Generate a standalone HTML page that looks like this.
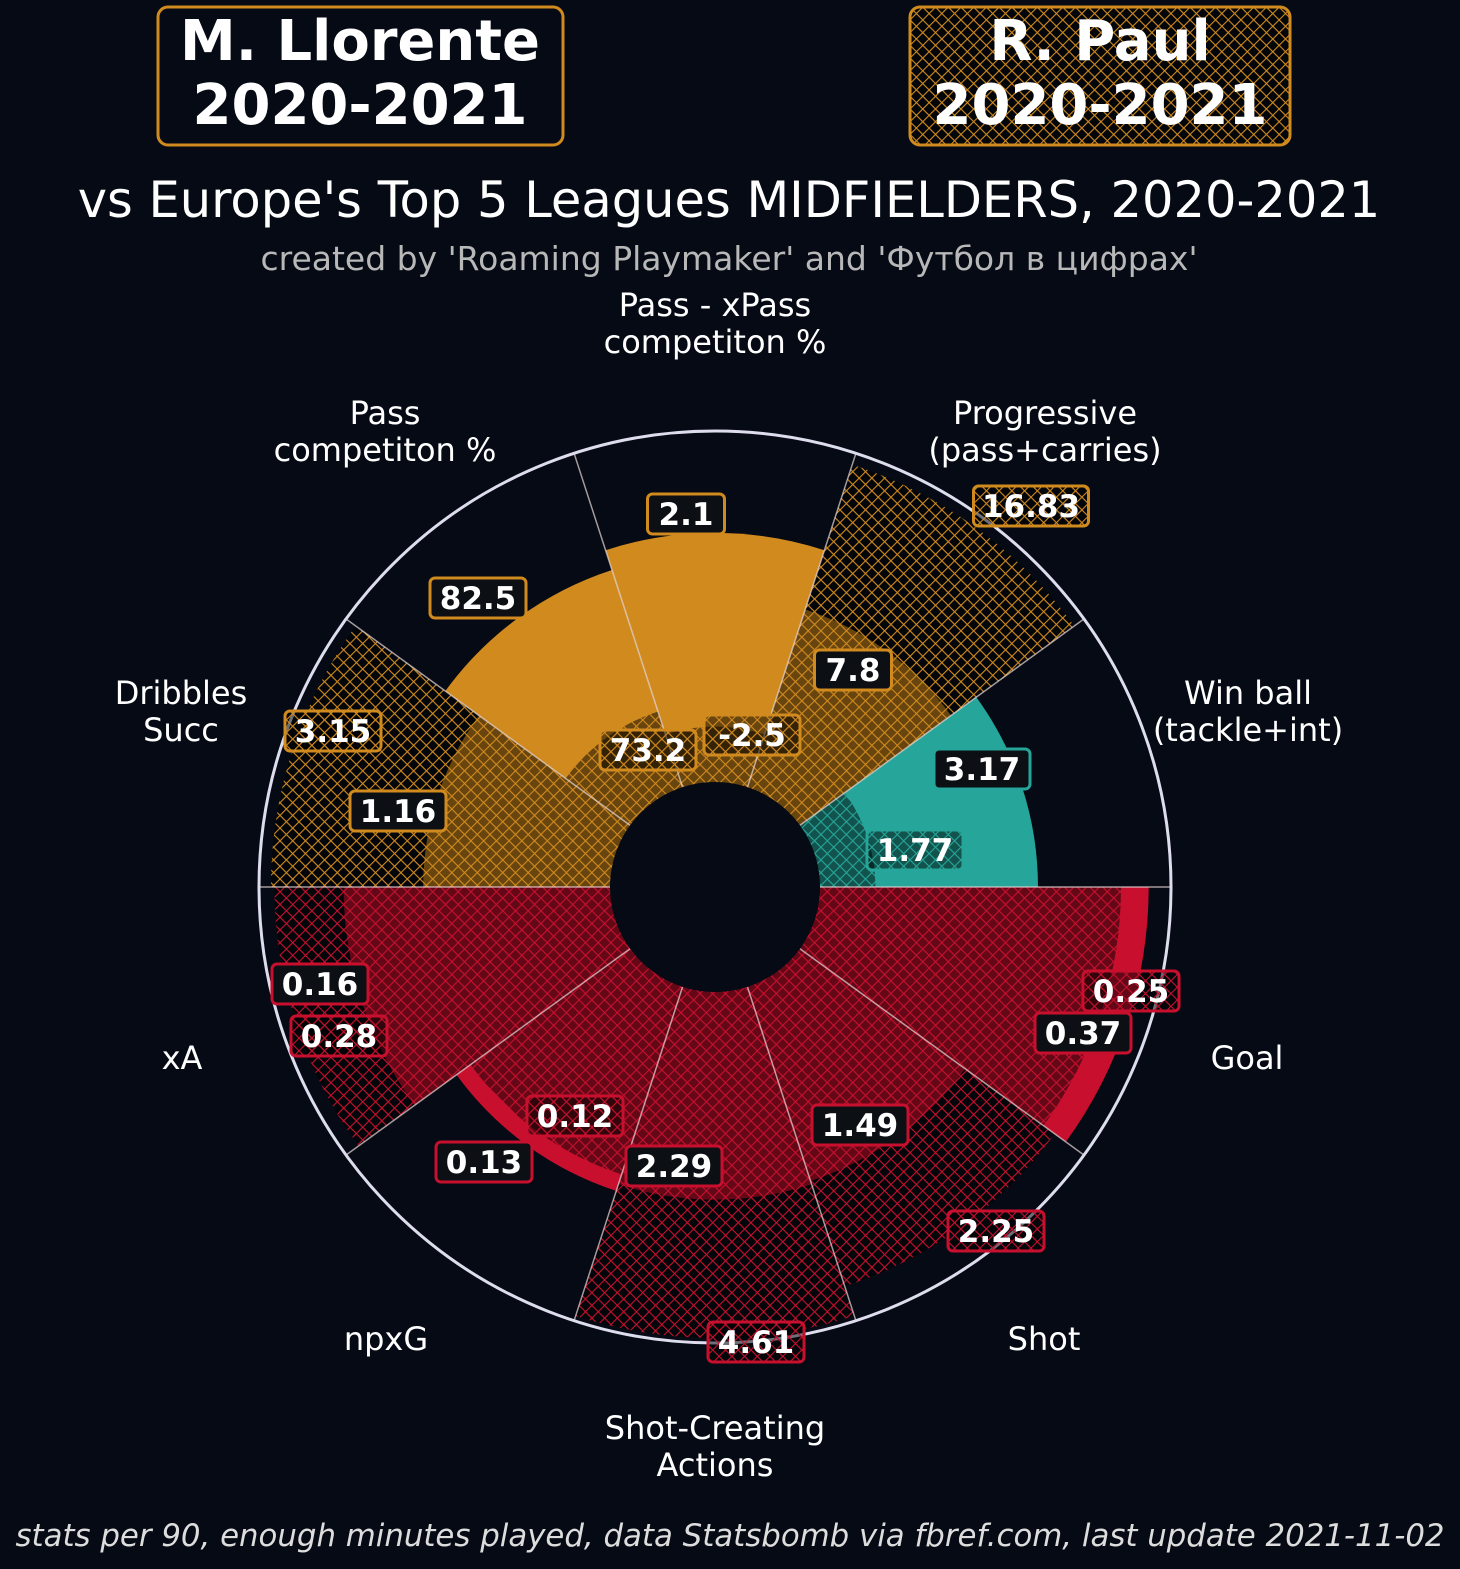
<!DOCTYPE html>
<html><head><meta charset="utf-8">
<style>
html,body{margin:0;padding:0;background:#050a14;}
svg{display:block;font-family:"DejaVu Sans","Liberation Sans",sans-serif;}
</style></head>
<body>
<svg id="chart" width="1460" height="1569" viewBox="0 0 1460 1569" xmlns="http://www.w3.org/2000/svg">
<defs>
<pattern id="hatch-orange" width="9" height="9" patternUnits="userSpaceOnUse" patternTransform="rotate(45)">
<rect width="9" height="9" fill="rgba(0,0,0,0.5)"/><path d="M0 0H9M0 0V9" stroke="#d18a1e" stroke-width="2.2"/></pattern>
<pattern id="hatch-teal" width="9" height="9" patternUnits="userSpaceOnUse" patternTransform="rotate(45)">
<rect width="9" height="9" fill="rgba(0,0,0,0.5)"/><path d="M0 0H9M0 0V9" stroke="#26a69a" stroke-width="2.2"/></pattern>
<pattern id="hatch-red" width="9" height="9" patternUnits="userSpaceOnUse" patternTransform="rotate(45)">
<rect width="9" height="9" fill="rgba(0,0,0,0.5)"/><path d="M0 0H9M0 0V9" stroke="#c8102e" stroke-width="2.2"/></pattern>
</defs>
<rect width="1460" height="1569" fill="#050a14"/>
<g>
<rect x="158" y="7" width="405" height="138" rx="10" fill="#050a14" stroke="#d18a1e" stroke-width="3"/>
<text x="360" y="60" text-anchor="middle" font-size="56" font-weight="bold" fill="#fff">M. Llorente</text>
<text x="360" y="124" text-anchor="middle" font-size="56" font-weight="bold" fill="#fff">2020-2021</text>
</g>
<g>
<rect x="910" y="7" width="380" height="138" rx="10" fill="url(#hatch-orange)" stroke="#d18a1e" stroke-width="3"/>
<text x="1100" y="60" text-anchor="middle" font-size="56" font-weight="bold" fill="#fff">R. Paul</text>
<text x="1100" y="124" text-anchor="middle" font-size="56" font-weight="bold" fill="#fff">2020-2021</text>
</g>
<text x="729" y="217" text-anchor="middle" font-size="49.5" fill="#fff">vs Europe's Top 5 Leagues MIDFIELDERS, 2020-2021</text>
<text x="729" y="270" text-anchor="middle" font-size="33" fill="#b8b8b8">created by 'Roaming Playmaker' and 'Футбол в цифрах'</text>
<g id="plot"></g>
<text x="730" y="1546" text-anchor="middle" font-size="30.8" font-style="italic" fill="#ddd">stats per 90, enough minutes played, data Statsbomb via fbref.com, last update 2021-11-02</text>
</svg>
<script>
const categories = ["Win ball (tackle+int)","Progressive (pass+carries)","Pass - xPass competiton %","Pass competiton %","Dribbles Succ","xA","npxG","Shot-Creating Actions","Shot","Goal"];
const llorenteValues = ["3.17","7.8","2.1","82.5","1.16","0.16","0.13","2.29","1.49","0.37"];
const paulValues = ["1.77","16.83","-2.5","73.2","3.15","0.28","0.12","4.61","2.25","0.25"];
const llorentePct = [63,54,72,66,54,77,62,60,59,95];
const paulPct = [16,98,16,23,98,97,57,100,91,87];
const groups = ["def","pass","pass","pass","pass","att","att","att","att","att"];

// layout (not data)
const cx=715, cy=887, r0=105, rMax=451, rOuter=456;
const colors={def:"#26a69a",pass:"#d18a1e",att:"#c8102e"};
const hatch={def:"url(#hatch-teal)",pass:"url(#hatch-orange)",att:"url(#hatch-red)"};
const catLabelLines=[["Win ball","(tackle+int)"],["Progressive","(pass+carries)"],["Pass - xPass","competiton %"],["Pass","competiton %"],["Dribbles","Succ"],["xA"],["npxG"],["Shot-Creating","Actions"],["Shot"],["Goal"]];
const catLabelPos=[[1248,693],[1045,413],[715,305],[385,413],[181,693],[182,1058],[386,1339],[715,1428],[1044,1339],[1247,1058]];
const l1Pos=[[982,769],[853,670],[686,514],[478,598],[398,811],[320,984],[484,1162],[674,1166],[860,1125],[1083,1033]];
const l2Pos=[[915,850],[1031,506],[752,735],[648,750],[333,731],[339,1036],[575,1116],[756,1342],[996,1231],[1131,991]];

const NS="http://www.w3.org/2000/svg";
const plot=document.getElementById('plot');
function rScale(p){return r0+(p/100)*(rMax-r0);}
function pt(r,deg){const a=deg*Math.PI/180;return [cx+r*Math.cos(a),cy-r*Math.sin(a)];}
function wedge(ri,ro,a1,a2){
  const p1=pt(ro,a1),p2=pt(ro,a2),p3=pt(ri,a2),p4=pt(ri,a1);
  return `M${p1[0]},${p1[1]} A${ro},${ro} 0 0 0 ${p2[0]},${p2[1]} L${p3[0]},${p3[1]} A${ri},${ri} 0 0 1 ${p4[0]},${p4[1]} Z`;
}
function mk(tag,attrs,parent){const e=document.createElementNS(NS,tag);for(const k in attrs)e.setAttribute(k,attrs[k]);(parent||plot).appendChild(e);return e;}
const step=360/categories.length;
categories.forEach((c,i)=>{
  const a1=i*step,a2=(i+1)*step,g=groups[i];
  const s=mk('path',{d:wedge(0,rScale(llorentePct[i]),a1,a2),fill:colors[g]});
  
  
  const h=mk('path',{d:wedge(0,rScale(paulPct[i]),a1,a2),fill:hatch[g]});
  
  
});
categories.forEach((c,i)=>{
  const p=pt(rOuter,i*step),q=pt(r0,i*step);
  const l=mk('line',{x1:q[0],y1:q[1],x2:p[0],y2:p[1],stroke:"#e8d8d8","stroke-opacity":0.7,"stroke-width":1.5});
  
  
});
const oc=mk('circle',{cx:cx,cy:cy,r:rOuter,fill:"none",stroke:"#dde","stroke-width":3});


const hole=mk('circle',{cx:cx,cy:cy,r:r0,fill:"#050a14"});


categories.forEach((c,i)=>{
  const lines=catLabelLines[i],[x,y]=catLabelPos[i];
  const t=mk('text',{x:x,"text-anchor":"middle","font-size":32,fill:"#fff"});
  
  
  lines.forEach((ln,k)=>{const ts=mk('tspan',{x:x,y:y+11+k*37},t);ts.textContent=ln;});
});
function valLabel(txt,pos,color,fill,name){
  const w=txt.length*19+20,h=40;
  const g=mk('g',{});
  
  
  mk('rect',{x:pos[0]-w/2,y:pos[1]-h/2,width:w,height:h,rx:5,fill:fill,stroke:color,"stroke-width":3},g);
  const t=mk('text',{x:pos[0],y:pos[1]+11,"text-anchor":"middle","font-size":31,"font-weight":"bold",fill:"#fff"},g);
  t.textContent=txt;
}
categories.forEach((c,i)=>{
  const g=groups[i];
  valLabel(llorenteValues[i],l1Pos[i],colors[g],"#0c0f14",'llorente-value-label');
  valLabel(paulValues[i],l2Pos[i],colors[g],hatch[g],'paul-value-label');
});
</script>
</body></html>
